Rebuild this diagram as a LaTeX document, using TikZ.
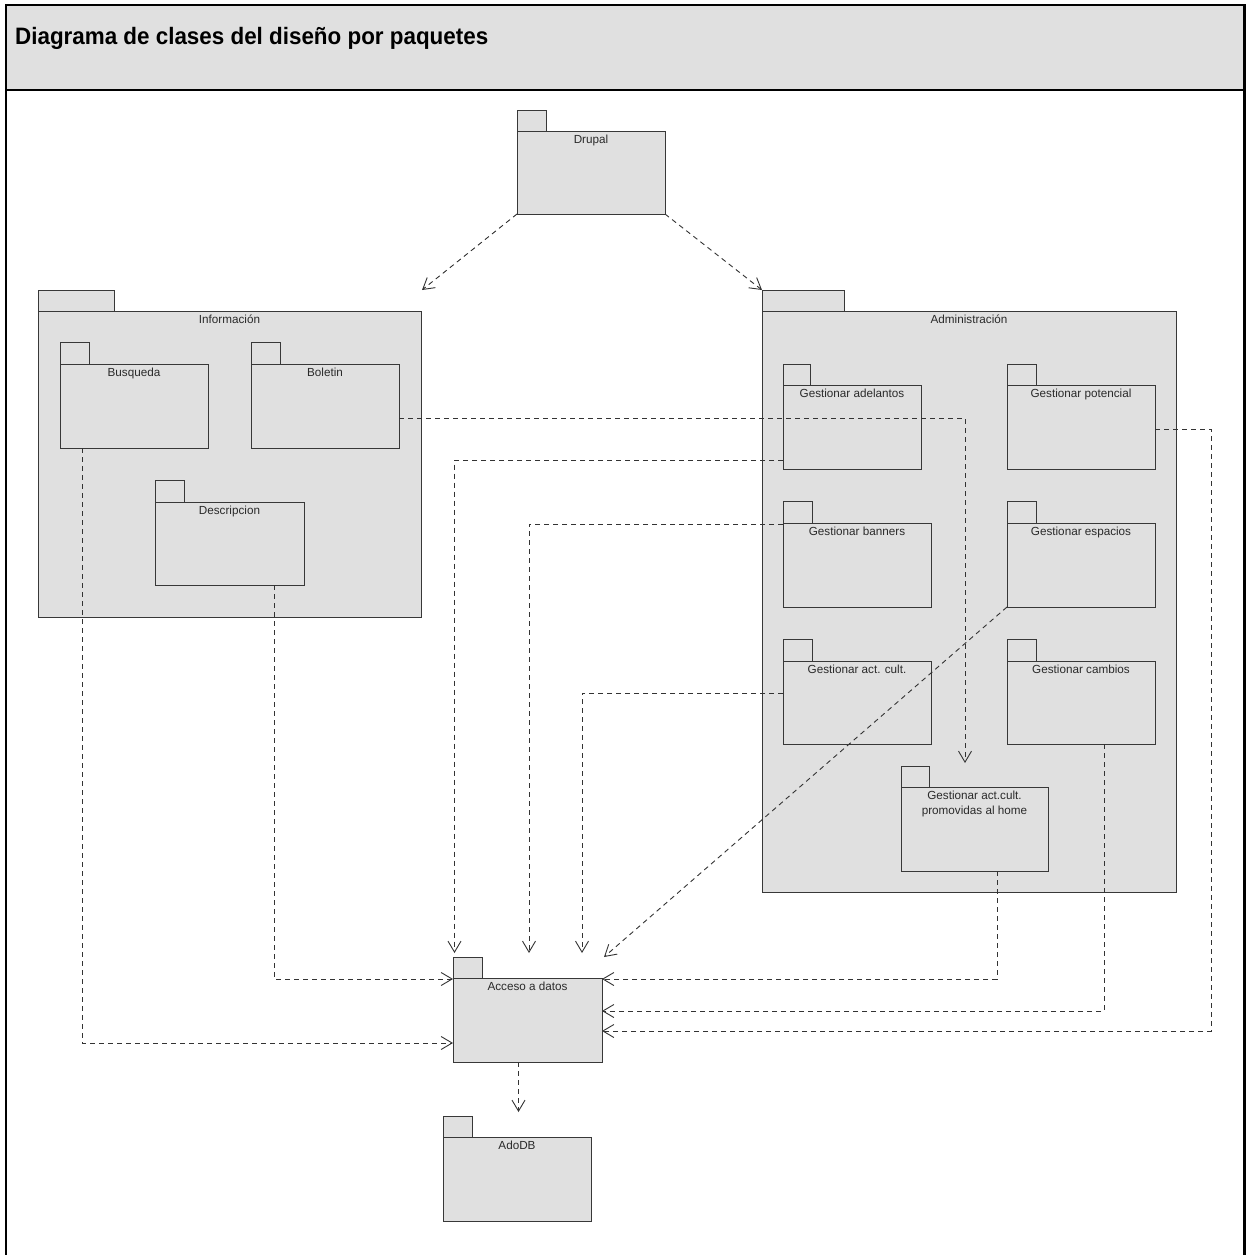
\documentclass[tikz,border=0pt]{standalone}
\usepackage{fontspec}
\setmainfont{Liberation Sans}
\usetikzlibrary{arrows.meta,calc}

\definecolor{pkgfill}{HTML}{E0E0E0}
\definecolor{pkgedge}{HTML}{383838}
\definecolor{pkgtext}{HTML}{2A2A2A}
\definecolor{depline}{HTML}{333333}

\tikzset{
  pkgline/.style={draw=pkgedge, fill=pkgfill, line width=1pt},
  pkgbody/.style={pkgline, inner sep=0pt, outer sep=0pt},
  pkglabel/.style={text=pkgtext, inner sep=0pt, align=center,
    font=\fontsize{11.7}{15}\selectfont},
  dep/.style={draw=depline, line width=0.9pt, dash pattern=on 5pt off 4pt,
    -{Straight Barb[length=11pt,width=13pt,line width=0.9pt]}},
  frameline/.style={draw=black, line width=2.6pt},
}

% UML package: [extra label drop], name, left, tab top, body top, tab right, right, bottom, label
\newcommand\umlpkg[9][0]{%
  \draw[pkgline] (#3,#4) rectangle (#6,#5);
  \node[pkgbody, anchor=north west,
        minimum width={(#7-#3)*1pt}, minimum height={(#8-#5)*1pt}] (#2) at (#3,#5) {};
  \node[pkglabel, anchor=base] (#2-label) at ({(#3+#7)/2},{#5+12.5+#1}) {#9};
}

\begin{document}
\begin{tikzpicture}[x=1pt,y=-1pt]
\useasboundingbox (0,0) rectangle (1246,1255);
\fill[white] (0,0) rectangle (1246,1255);

% frame and heading
\draw[frameline] (6,1258) -- (6,5) -- (1244.5,5) -- (1244.5,1258);
\draw[frameline, fill=pkgfill] (6,5) rectangle (1244.5,90);
\node[anchor=base west, inner sep=0pt, yscale=1.06,
      font=\fontsize{22.4}{26}\selectfont\bfseries] (title)
  at (15,45) {Diagrama de clases del diseño por paquetes};

% top-level packages
\umlpkg{drupal}{517}{110}{131}{546}{665}{214}{Drupal}
\umlpkg{info}{38}{290}{311}{114}{421}{617}{Información}
\umlpkg{admin}{762}{290}{311}{844}{1176}{892}{Administración}

% packages inside Información
\umlpkg{busq}{60}{342}{364}{89}{208}{448}{Busqueda}
\umlpkg{bolet}{251}{342}{364}{280}{399}{448}{Boletin}
\umlpkg{desc}{155}{480}{502}{184}{304}{585}{Descripcion}

% packages inside Administración
\umlpkg{adel}{783}{364}{385}{810}{921}{469}{Gestionar adelantos}
\umlpkg{poten}{1007}{364}{385}{1036}{1155}{469}{Gestionar potencial}
\umlpkg{bann}{783}{501}{523}{812}{931}{607}{Gestionar banners}
\umlpkg{espac}{1007}{501}{523}{1036}{1155}{607}{Gestionar espacios}
\umlpkg{actc}{783}{639}{661}{812}{931}{744}{Gestionar act. cult.}
\umlpkg{camb}{1007}{639}{661}{1036}{1155}{744}{Gestionar cambios}
\umlpkg[15]{promo}{901}{766}{787}{929}{1048}{871}{Gestionar act.cult.\\promovidas al home}

% data access layer
\umlpkg{acc}{453}{957}{978}{482}{602}{1062}{Acceso a datos}
\umlpkg{adodb}{443}{1116}{1137}{472}{591}{1221}{AdoDB}

% dependencies
\draw[dep] (drupal.south west) -- ([xshift=1pt,yshift=21pt]info.north east);
\draw[dep] (drupal.south east) -- ([yshift=21pt]admin.north west);

\draw[dep] ([yshift=-12pt]bolet.east) -| ([xshift=-9.5pt,yshift=24pt]promo.north);

\draw[dep] ([yshift=-33pt]adel.west) -| ([xshift=1.5pt,yshift=25pt]acc.north west);
\draw[dep] ([yshift=-1pt]bann.north west) -| ([xshift=1.5pt,yshift=25pt]acc.north);
\draw[dep] ([yshift=-32pt]actc.north west) -| ([xshift=54.5pt,yshift=25pt]acc.north);
\draw[dep] (espac.south west) -- ([xshift=2pt,yshift=21pt]acc.north east);

\draw[dep] ([xshift=22.5pt]promo.south) |- ([yshift=-1pt]acc.north east);
\draw[dep] ([xshift=23pt]camb.south) |- ([yshift=-33pt]acc.north east);
\draw[dep] ([yshift=-2pt]poten.east) -- ++(56,0) |- ([yshift=-11pt]acc.east);

\draw[dep] ([xshift=-52pt]busq.south) |- ([yshift=-23pt]acc.west);
\draw[dep] ([xshift=44.5pt]desc.south) |- ([yshift=-1pt]acc.north west);

\draw[dep] ([xshift=-9pt]acc.south) -- ([xshift=1.5pt,yshift=25pt]adodb.north);
\end{tikzpicture}
\end{document}
